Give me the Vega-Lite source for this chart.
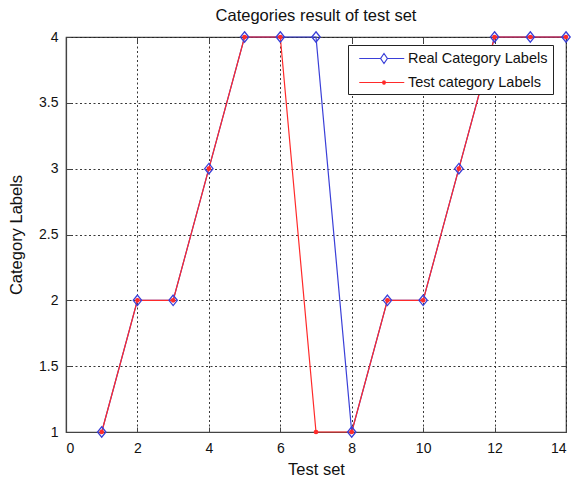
{
  "$schema": "https://vega.github.io/schema/vega-lite/v6.json",
  "width": 500,
  "height": 395,
  "autosize": {"type": "none"},
  "padding": {"left": 66, "top": 37, "right": 11, "bottom": 48},
  "background": "white",
  "config": {
    "font": "Liberation Sans",
    "view": {"stroke": "#444", "strokeWidth": 1.2},
    "axis": {
      "labelFont": "Liberation Sans", "titleFont": "Liberation Sans",
      "labelFontSize": 14, "titleFontSize": 16.5, "titleFontWeight": "normal",
      "labelColor": "#111", "titleColor": "#111",
      "domainColor": "#444", "tickColor": "#444", "domainWidth": 1.2,
      "gridColor": "#222", "gridDash": [2, 2.5], "gridOpacity": 0.9, "gridWidth": 1
    }
  },
  "title": {"text": "Categories result of test set", "font": "Liberation Sans", "fontSize": 16.5, "fontWeight": "normal", "color": "#111", "offset": 5},
  "data": {"values": [
    {"x": 1, "y": 1, "series": "Real Category Labels"},
    {"x": 2, "y": 2, "series": "Real Category Labels"},
    {"x": 3, "y": 2, "series": "Real Category Labels"},
    {"x": 4, "y": 3, "series": "Real Category Labels"},
    {"x": 5, "y": 4, "series": "Real Category Labels"},
    {"x": 6, "y": 4, "series": "Real Category Labels"},
    {"x": 7, "y": 4, "series": "Real Category Labels"},
    {"x": 8, "y": 1, "series": "Real Category Labels"},
    {"x": 9, "y": 2, "series": "Real Category Labels"},
    {"x": 10, "y": 2, "series": "Real Category Labels"},
    {"x": 11, "y": 3, "series": "Real Category Labels"},
    {"x": 12, "y": 4, "series": "Real Category Labels"},
    {"x": 13, "y": 4, "series": "Real Category Labels"},
    {"x": 14, "y": 4, "series": "Real Category Labels"},
    {"x": 1, "y": 1, "series": "Test category Labels"},
    {"x": 2, "y": 2, "series": "Test category Labels"},
    {"x": 3, "y": 2, "series": "Test category Labels"},
    {"x": 4, "y": 3, "series": "Test category Labels"},
    {"x": 5, "y": 4, "series": "Test category Labels"},
    {"x": 6, "y": 4, "series": "Test category Labels"},
    {"x": 7, "y": 1, "series": "Test category Labels"},
    {"x": 8, "y": 1, "series": "Test category Labels"},
    {"x": 9, "y": 2, "series": "Test category Labels"},
    {"x": 10, "y": 2, "series": "Test category Labels"},
    {"x": 11, "y": 3, "series": "Test category Labels"},
    {"x": 12, "y": 4, "series": "Test category Labels"},
    {"x": 13, "y": 4, "series": "Test category Labels"},
    {"x": 14, "y": 4, "series": "Test category Labels"}
  ]},
  "resolve": {"axis": {"x": "independent", "y": "independent"}},
  "layer": [
    {
      "encoding": {
        "x": {"field": "x", "type": "quantitative", "scale": {"domain": [0, 14], "nice": false},
          "axis": {"title": "Test set", "values": [0, 2, 4, 6, 8, 10, 12, 14], "tickSize": -5, "labelPadding": 14, "titlePadding": 6}},
        "y": {"field": "y", "type": "quantitative", "scale": {"domain": [1, 4], "nice": false, "zero": false},
          "axis": {"title": "Category Labels", "values": [1, 1.5, 2, 2.5, 3, 3.5, 4], "format": "~g", "tickSize": -5, "labelPadding": 13, "titlePadding": 14}},
        "color": {"field": "series", "type": "nominal",
          "scale": {"domain": ["Real Category Labels", "Test category Labels"], "range": ["#3a3fd8", "#ff2a2a"]},
          "legend": {
            "title": null, "orient": "none", "legendX": 282, "legendY": 8,
            "strokeColor": "#222", "fillColor": "white", "padding": 5,
            "labelFont": "Liberation Sans", "labelFontSize": 14.5, "labelColor": "#111",
            "symbolSize": 225, "rowPadding": 8, "labelOffset": 38, "symbolStrokeWidth": 1.2,
            "symbolFillColor": "transparent",
            "encode": {"symbols": {"update": {
              "shape": {"signal": "datum.value === 'Real Category Labels' ? 'M-0.3,0L2.55,0M3.45,0L5.7,0M3,-0.67L3.45,0L3,0.67L2.55,0Z' : 'M-0.3,0L5.7,0M2.8,-0.2L3.2,0.2M2.8,0.2L3.2,-0.2M3,-0.3L3,0.3'"},
              "fill": {"value": "white"},
              "fillOpacity": {"value": 0}
            }}}
          }}
      },
      "layer": [
        {"transform": [{"filter": "datum.series === 'Real Category Labels'"}],
         "mark": {"type": "line", "strokeWidth": 1.2}},
        {"transform": [{"filter": "datum.series === 'Test category Labels'"}],
         "mark": {"type": "line", "strokeWidth": 1.2}},
        {"transform": [{"filter": "datum.series === 'Real Category Labels'"}],
         "mark": {"type": "point", "shape": "M0,-1L0.8,0L0,1L-0.8,0Z", "size": 110, "filled": false, "fill": "transparent", "strokeWidth": 1.3, "opacity": 1}},
        {"transform": [{"filter": "datum.series === 'Test category Labels'"}],
         "mark": {"type": "point", "shape": "circle", "size": 22, "filled": true, "opacity": 1}}
      ]
    },
    {
      "mark": {"type": "point", "opacity": 0},
      "encoding": {
        "x": {"field": "x", "type": "quantitative",
          "axis": {"orient": "top", "title": null, "labels": false, "grid": false, "domain": false, "values": [0, 2, 4, 6, 8, 10, 12, 14], "tickSize": -5}},
        "y": {"field": "y", "type": "quantitative",
          "axis": {"orient": "right", "title": null, "labels": false, "grid": false, "domain": false, "values": [1, 1.5, 2, 2.5, 3, 3.5, 4], "tickSize": -5}}
      }
    }
  ]
}
